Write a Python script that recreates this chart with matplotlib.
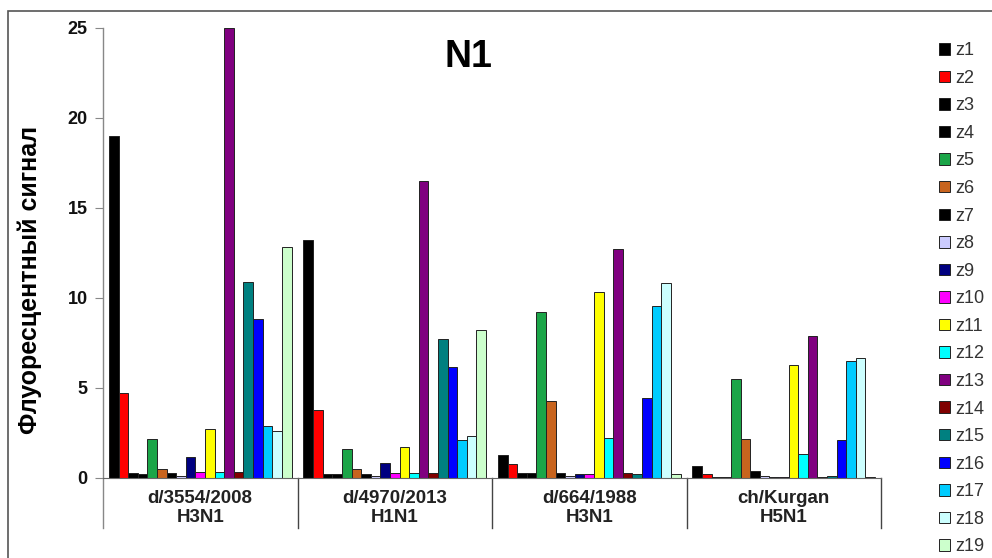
import numpy as np
import matplotlib.pyplot as plt
from matplotlib.patches import Rectangle, Patch
from matplotlib.transforms import blended_transform_factory

plt.rcParams['font.family'] = ['Liberation Sans', 'DejaVu Sans']

groups = ["d/3554/2008\nH3N1", "d/4970/2013\nH1N1", "d/664/1988\nH3N1", "ch/Kurgan\nH5N1"]
series = [f"z{i}" for i in range(1, 20)]
colors = ["#000000", "#FF0000", "#000000", "#000000", "#1BA548", "#C8641E", "#000000",
          "#CCCCFF", "#000080", "#FF00FF", "#FFFF00", "#00FFFF", "#800080", "#800000",
          "#008080", "#0000FF", "#00CCFF", "#CCFFFF", "#CCFFCC"]

# values per series (z1..z19), one per virus group
z_vals = [
    [19.0, 13.2, 1.3, 0.68],   # z1
    [4.7, 3.78, 0.8, 0.22],    # z2
    [0.28, 0.22, 0.28, 0.05],  # z3
    [0.22, 0.22, 0.28, 0.05],  # z4
    [2.16, 1.6, 9.2, 5.48],    # z5
    [0.5, 0.48, 4.26, 2.18],   # z6
    [0.28, 0.22, 0.28, 0.38],  # z7
    [0.12, 0.12, 0.12, 0.12],  # z8
    [1.15, 0.82, 0.25, 0.05],  # z9
    [0.35, 0.28, 0.25, 0.05],  # z10
    [2.74, 1.74, 10.35, 6.28], # z11
    [0.35, 0.28, 2.24, 1.35],  # z12
    [25.0, 16.5, 12.7, 7.9],   # z13
    [0.35, 0.28, 0.28, 0.05],  # z14
    [10.9, 7.7, 0.2, 0.12],    # z15
    [8.85, 6.15, 4.46, 2.1],   # z16
    [2.9, 2.1, 9.55, 6.5],     # z17
    [2.63, 2.33, 10.85, 6.67], # z18
    [12.85, 8.2, 0.2, 0.05],   # z19
]

W, H = 992, 558
fig = plt.figure(figsize=(W / 100, H / 100), dpi=100)
ax = fig.add_axes([103 / W, 1 - 478 / H, 778 / W, 450 / H])

n = len(series)
bw = 0.0494
x0 = np.arange(len(groups))
for i, (name, col) in enumerate(zip(series, colors)):
    xs = x0 + 0.5 + (i - (n - 1) / 2) * bw
    ax.bar(xs, z_vals[i], width=bw, color=col, edgecolor="#222222", linewidth=0.7, label=name)

ax.set_xlim(0, len(groups))
ax.set_ylim(0, 25)
ax.set_yticks([0, 5, 10, 15, 20, 25])
ax.set_xticks([])
for s in ["top", "right", "left"]:
    ax.spines[s].set_visible(False)
ax.spines["bottom"].set_color("#666666")
ax.tick_params(axis="y", direction="out", length=6, width=0.8, color="#888888", pad=5, labelsize=13)
for lab in ax.get_yticklabels():
    lab.set_fontweight("bold")
    lab.set_color("#111111")

# category axis with dividers like the original spreadsheet chart
tr = blended_transform_factory(ax.transData, ax.transAxes)
ax.plot([0, 0], [-0.111, 1], transform=tr, color="#888888", lw=1.0, clip_on=False)
for b in range(1, len(groups) + 1):
    ax.plot([b, b], [-0.111, 0], transform=tr, color="#444444", lw=1.0, clip_on=False)
for g, lab in enumerate(groups):
    ax.text(g + 0.5, -0.066, lab, transform=tr, ha="center", va="center",
            fontsize=13.5, fontweight="bold", color="#222222", linespacing=1.15)

ax.set_ylabel("Флуоресцентный сигнал", fontsize=18, fontweight="bold")
ax.yaxis.set_label_coords(-0.078, 0.44)

fig.text(468 / W, 1 - 57 / H, "N1", ha="center", va="center", fontsize=27, fontweight="bold")

handles = [Patch(facecolor=c, edgecolor="#222222", linewidth=0.7) for c in colors]
fig.legend(handles, series, loc="upper left", bbox_to_anchor=(932 / W, 1 - 35 / H),
           frameon=False, fontsize=13, handlelength=0.6, handleheight=0.6,
           handletextpad=0.3, labelspacing=0.585, borderaxespad=0, labelcolor="#333333")

# outer frame
fig.patches.append(Rectangle((8 / W, -0.1), 1.2, 1.1 - 11 / H, transform=fig.transFigure,
                             fill=False, edgecolor="#555555", linewidth=1.2))

fig.savefig("out.png", dpi=100)
